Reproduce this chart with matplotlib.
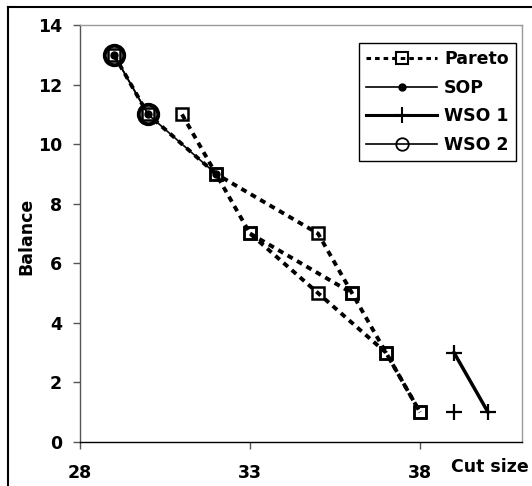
import matplotlib
matplotlib.use("Agg")
import matplotlib.pyplot as plt
from matplotlib.lines import Line2D

# Pareto fronts (several runs drawn as one series in the legend)
pareto_x_a = [29, 30, 32, 33, 35, 37, 38]
pareto_y_a = [13, 11, 9, 7, 5, 3, 1]
pareto_x_b = [31, 32, 35, 36, 37, 38]
pareto_y_b = [11, 9, 7, 5, 3, 1]
pareto_x_c = [33, 36]
pareto_y_c = [7, 5]

sop_x = [29, 30, 32]
sop_y = [13, 11, 9]

wso1_x = [39, 40]
wso1_y = [3, 1]
wso1_extra_x = [39]
wso1_extra_y = [1]

wso2_x = [29, 30]
wso2_y = [13, 11]

x_ticks = [28, 33, 38]
y_ticks = [0, 2, 4, 6, 8, 10, 12, 14]
labels = ["Pareto", "SOP", "WSO 1", "WSO 2"]

plt.rcParams['font.family'] = ['DejaVu Sans']
fs = 12.5
pareto_ls = (0, (1.5, 1.3))

fig = plt.figure(figsize=(5.32, 4.86), dpi=100)
ax = fig.add_axes([80 / 532, 44 / 486, 442 / 532, 417 / 486])

for px, py in [(pareto_x_a, pareto_y_a), (pareto_x_b, pareto_y_b), (pareto_x_c, pareto_y_c)]:
    ax.plot(px, py, color='black', lw=2.8, ls=pareto_ls, marker='s', ms=9,
            mfc='none', mec='black', mew=1.8)

ax.plot(sop_x, sop_y, color='black', lw=1.2, marker='o', ms=5)
ax.plot(wso2_x, wso2_y, color='black', lw=1.2, marker='o', ms=14,
        mfc='none', mew=2.8)
ax.plot(wso1_x, wso1_y, color='black', lw=2.5, marker='+', ms=11, mew=1.6)
ax.plot(wso1_extra_x, wso1_extra_y, color='black', lw=0, marker='+', ms=11, mew=1.6)

ax.set_xlim(28, 41)
ax.set_ylim(0, 14)
ax.set_xticks(x_ticks)
ax.set_yticks(y_ticks)
ax.tick_params(axis='both', direction='out', length=5, width=1, color='#555555',
               labelsize=fs)
ax.tick_params(axis='x', pad=11)
ax.tick_params(axis='y', pad=8)
for lab in ax.get_xticklabels() + ax.get_yticklabels():
    lab.set_fontweight('bold')

ax.spines['left'].set_color('#555555')
ax.spines['bottom'].set_color('black')
ax.spines['top'].set_color('#999999')
ax.spines['right'].set_color('#999999')
for s in ax.spines.values():
    s.set_linewidth(1)

fig.text(26 / 532, 1 - 236 / 486, 'Balance', rotation=90, ha='center', va='center',
         fontsize=fs, fontweight='bold')
fig.text(529 / 532, 1 - 467 / 486, 'Cut size', ha='right', va='center',
         fontsize=fs, fontweight='bold')

handles = [
    Line2D([], [], color='black', lw=2.2, ls=pareto_ls, marker='s', ms=8,
           mfc='none', mew=1.5),
    Line2D([], [], color='black', lw=1.2, marker='o', ms=5),
    Line2D([], [], color='black', lw=2.2, marker='+', ms=11, mew=1.5),
    Line2D([], [], color='black', lw=1.2, marker='o', ms=9, mfc='none', mew=1.3),
]
leg = ax.legend(handles, labels, loc='upper right', bbox_to_anchor=(0.986, 0.957),
                fancybox=False, edgecolor='black', framealpha=1,
                handlelength=4.1, handletextpad=0.4, labelspacing=0.62,
                borderpad=0.4, borderaxespad=0,
                prop={'weight': 'bold', 'size': fs})
leg.get_frame().set_linewidth(1)

# outer chart border (only top and left edges fall inside the picture)
fig.add_artist(Line2D([7.5 / 532, 7.5 / 532], [0, 1 - 7.5 / 486], color='black', lw=1.5))
fig.add_artist(Line2D([7.5 / 532, 1], [1 - 7.5 / 486, 1 - 7.5 / 486], color='black', lw=1.5))

fig.savefig('out.png', dpi=100)
